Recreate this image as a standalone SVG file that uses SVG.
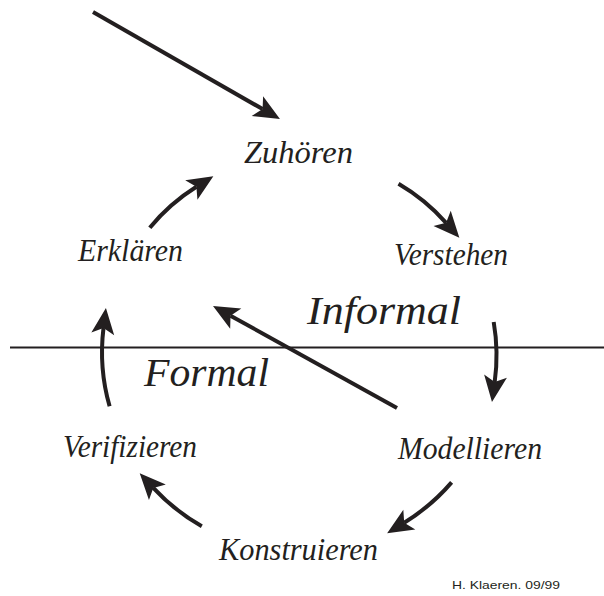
<svg xmlns="http://www.w3.org/2000/svg" width="604" height="596" viewBox="0 0 604 596">
<style>
.lbl{font-family:"Liberation Serif","Times New Roman",serif;font-style:italic;font-size:31px;fill:#231f20}
.big{font-size:41px}
.credit{font-family:"Liberation Sans",Arial,sans-serif;font-size:11px;fill:#231f20}
.arr{fill:none;stroke:#231f20;stroke-width:4;marker-end:url(#head)}
</style>
<defs>
<marker id="head" markerUnits="userSpaceOnUse" markerWidth="30" markerHeight="30" refX="6" refY="0" orient="auto" overflow="visible">
<path d="M26,0 L0,-11.5 L6,0 L0,11.5 Z" fill="#231f20"/>
</marker>
</defs>
<rect width="604" height="596" fill="#fff"/>
<line x1="10" y1="347.5" x2="604" y2="347.5" stroke="#231f20" stroke-width="2"/>
<g id="connectors">
<path class="arr" d="M93,12 L262.6,109.1"/>
<path class="arr" d="M149.8,227.7 A195,195 0 0 1 196.4,186.8"/>
<path class="arr" d="M398.5,183.7 A195,195 0 0 1 446.1,222.8"/>
<path class="arr" d="M493.7,322 A197,197 0 0 1 494.7,382.1"/>
<path class="arr" d="M451.6,482.4 A200,200 0 0 1 404.2,522.7"/>
<path class="arr" d="M201.8,526.2 A200,200 0 0 1 153.3,487.9"/>
<path class="arr" d="M109.6,406.3 A198,198 0 0 1 103.5,327.9"/>
<path class="arr" d="M397,408 L230.5,315.7"/>
</g>
<g id="zuhoeren"><text class="lbl" x="244" y="163" textLength="109" lengthAdjust="spacingAndGlyphs">Zuhören</text></g>
<g id="verstehen"><text class="lbl" x="394" y="265" textLength="114" lengthAdjust="spacingAndGlyphs">Verstehen</text></g>
<g id="erklaeren"><text class="lbl" x="78" y="261" textLength="105" lengthAdjust="spacingAndGlyphs">Erklären</text></g>
<g id="modellieren"><text class="lbl" x="398" y="459" textLength="144" lengthAdjust="spacingAndGlyphs">Modellieren</text></g>
<g id="verifizieren"><text class="lbl" x="63" y="457" textLength="134" lengthAdjust="spacingAndGlyphs">Verifizieren</text></g>
<g id="konstruieren"><text class="lbl" x="219" y="560" textLength="159" lengthAdjust="spacingAndGlyphs">Konstruieren</text></g>
<g id="informal"><text class="lbl big" x="307" y="324" textLength="154" lengthAdjust="spacingAndGlyphs">Informal</text></g>
<g id="formal"><text class="lbl big" x="144" y="386" textLength="125" lengthAdjust="spacingAndGlyphs">Formal</text></g>
<g id="credit"><text class="credit" x="452" y="589" textLength="108" lengthAdjust="spacingAndGlyphs">H. Klaeren. 09/99</text></g>
</svg>
